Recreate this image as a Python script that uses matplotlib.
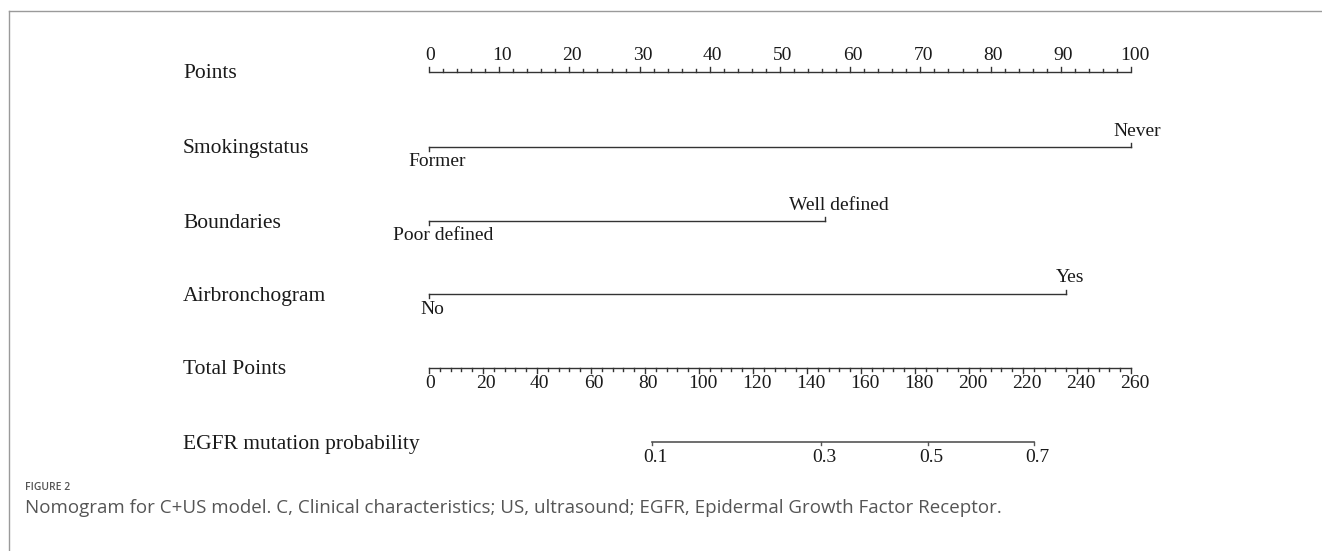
import matplotlib
matplotlib.use("Agg")
import matplotlib.pyplot as plt
from matplotlib.lines import Line2D
from matplotlib.transforms import Affine2D
import numpy as np

# nomogram content
point_ticks = list(range(0, 101, 10))
total_ticks = list(range(0, 261, 20))

var_names = ["Smokingstatus", "Boundaries", "Airbronchogram"]
var_levels = [["Former", "Never"],
              ["Poor defined", "Well defined"],
              ["No", "Yes"]]
var_points = [[0, 100],
              [0, 56.4],
              [0, 90.7]]

prob_labels = ["0.1", "0.3", "0.5", "0.7"]
prob_total_points = [82.5, 145.2, 184.7, 224.1]   # total points at each probability

TOTAL_MAX = 260
SERIF = "Liberation Serif"
INK = "#1a1a1a"
LINE = "#333333"

W, H = 1322, 551
fig = plt.figure(figsize=(W / 100, H / 100), dpi=100)
ax = fig.add_axes([0, 0, 1, 1])
ax.axis("off")

# x in points (0..100 -> 429..1131 px), y in pixel rows from the top
X0, PX = 429, 7.02
ax.set_xlim(-X0 / PX, (W - X0) / PX)
ax.set_ylim(H, 0)

row_y = [72, 147, 221, 294, 368, 442]
row_names = ["Points"] + var_names + ["Total Points", "EGFR mutation probability"]
label_x = (183 - X0) / PX

shifted = []


def tick_label(x, y, s, size=14):
    t = ax.text(x, y, s, ha="left", va="center", fontsize=size,
                family=SERIF, color=INK)
    shifted.append(t)
    return t


for name, y in zip(row_names, row_y):
    ax.text(label_x, y + 2, name, ha="left", va="center", fontsize=15.5,
            family=SERIF, color=INK)

# Points scale
y = row_y[0]
ax.plot([0, 100], [y, y], color=LINE, lw=1.0, solid_capstyle="butt")
for v in np.arange(0, 101, 2):
    ln = 5 if v % 10 == 0 else 3
    ax.plot([v, v], [y, y - ln], color=LINE, lw=1.0)
for v in point_ticks:
    tick_label(v, y - 17, str(v))

# variable lines
for i, (levels, pts) in enumerate(zip(var_levels, var_points)):
    y = row_y[i + 1]
    ax.plot([min(pts), max(pts)], [y, y], color=LINE, lw=1.0)
    # first level: tick and label below; second: tick and label above
    ax.plot([pts[0], pts[0]], [y, y + 4], color=LINE, lw=1.0)
    tick_label(pts[0], y + 15, levels[0])
    ax.plot([pts[1], pts[1]], [y, y - 4], color=LINE, lw=1.0)
    tick_label(pts[1], y - 16, levels[1])

# Total points scale
scale = 100 / TOTAL_MAX
y = row_y[4]
ax.plot([0, 100], [y, y], color=LINE, lw=1.0)
for v in np.arange(0, TOTAL_MAX + 1, 4):
    ln = 5 if v % 20 == 0 else 3
    ax.plot([v * scale, v * scale], [y, y + ln], color=LINE, lw=1.0)
for v in total_ticks:
    tick_label(v * scale, y + 15, str(v))

# probability axis
y = row_y[5]
px = [p * scale for p in prob_total_points]
ax.plot([px[0], px[-1]], [y, y], color="#555555", lw=1.2)
for x, s in zip(px, prob_labels):
    ax.plot([x, x], [y, y + 3], color="#555555", lw=1.0)
    tick_label(x, y + 15, s)

# labels sit a little right of their ticks
fig.canvas.draw()
for t in shifted:
    w = t.get_window_extent().width
    t.set_transform(ax.transData + Affine2D().translate(-0.36 * w, 0))

# page frame and caption
fig.add_artist(Line2D([9 / W, 1], [1 - 11 / H] * 2, color="#9a9a9a", lw=1.0))
fig.add_artist(Line2D([9 / W] * 2, [0, 1 - 11 / H], color="#9a9a9a", lw=1.0))
fig.text(25 / W, 1 - 487 / H, "FIGURE 2", ha="left", va="center",
         fontsize=7.5, family="Open Sans", weight="semibold", color="#555555")
fig.text(25 / W, 1 - 508 / H,
         "Nomogram for C+US model. C, Clinical characteristics; US, ultrasound; "
         "EGFR, Epidermal Growth Factor Receptor.",
         ha="left", va="center", fontsize=13.5, family="Open Sans", color="#555555")

fig.savefig("out.png", dpi=100)
